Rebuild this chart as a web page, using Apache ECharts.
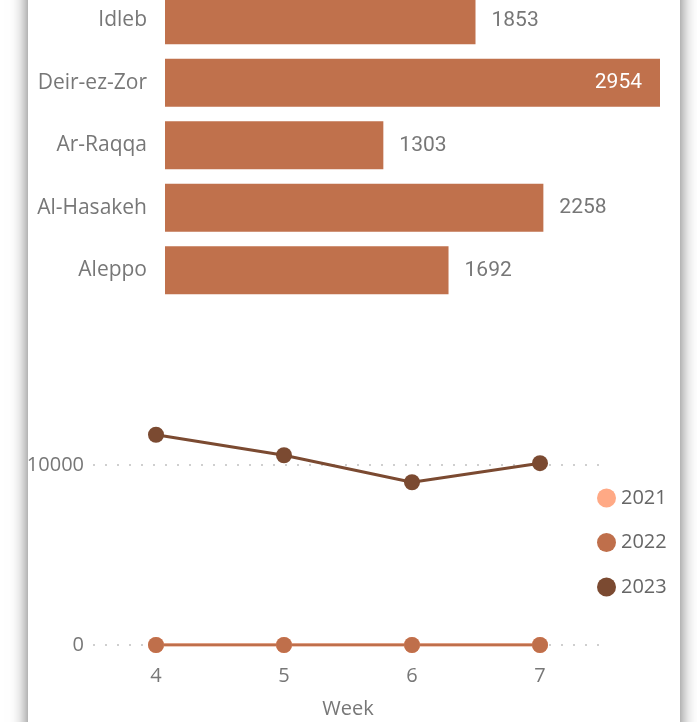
<!DOCTYPE html>
<html>
<head>
<meta charset="utf-8">
<script src="https://cdn.jsdelivr.net/npm/echarts@6/dist/echarts.min.js"></script>
<style>
html,body{margin:0;padding:0;width:697px;height:722px;overflow:hidden;background:#fff;}
#panel{position:absolute;left:28px;top:-30px;width:652px;height:782px;background:#fff;box-shadow:0 0 16px rgba(0,0,0,0.6);}
#barChart{position:absolute;left:0;top:-11px;width:697px;height:330px;}
#lineChart{position:absolute;left:0;top:330px;width:697px;height:392px;}
</style>
</head>
<body>
<div id="panel"></div>
<div id="barChart"></div>
<div id="lineChart"></div>
<script>
// Bar chart data
const regions = ['Idleb', 'Deir-ez-Zor', 'Ar-Raqqa', 'Al-Hasakeh', 'Aleppo'];
const regionValues = [1853, 2954, 1303, 2258, 1692];

// Line chart data
const weeks = ['4', '5', '6', '7'];
const years = ['2021', '2022', '2023'];
const values2021 = [0, 0, 0, 0];
const values2022 = [0, 0, 0, 0];
const values2023 = [11680, 10540, 9040, 10100];
const yTickInterval = 10000;

const barColor = '#C0714C';
const yearColors = ['#FFA985', '#BF6F4B', '#7B4A31'];
const textGrey = '#777777';
const fontMain = 'Open Sans';

const barMax = Math.max.apply(null, regionValues);

const barChart = echarts.init(document.getElementById('barChart'), null, {renderer: 'canvas'});
barChart.setOption({
  backgroundColor: 'transparent',
  animation: false,
  grid: {left: 165, right: 37, top: 0, height: 312.5, containLabel: false, outerBoundsMode: 'none'},
  xAxis: {type: 'value', min: 0, max: barMax, show: false},
  yAxis: {
    type: 'category', data: regions, inverse: true,
    axisLine: {show: false}, axisTick: {show: false},
    axisLabel: {color: textGrey, fontFamily: fontMain, fontSize: 21, margin: 18}
  },
  series: [{
    type: 'bar',
    data: regionValues.map(function (v) {
      const isMax = v === barMax;
      return {
        value: v,
        label: isMax ? {position: 'insideRight', color: '#fff', distance: 18} : {}
      };
    }),
    barWidth: 48,
    itemStyle: {color: barColor},
    label: {
      show: true, position: 'right', distance: 16,
      color: textGrey, fontFamily: 'Roboto', fontSize: 21, fontWeight: 'normal'
    }
  }]
});

const lineChart = echarts.init(document.getElementById('lineChart'), null, {renderer: 'canvas'});
lineChart.setOption({
  backgroundColor: 'transparent',
  animation: false,
  grid: {left: 92, right: 93, top: 99, height: 216, containLabel: false, outerBoundsMode: 'none'},
  legend: {
    data: years,
    orient: 'vertical',
    left: 592,
    top: 153,
    icon: 'circle',
    itemWidth: 19,
    itemHeight: 19,
    itemGap: 24.5,
    textStyle: {color: '#666', fontFamily: fontMain, fontSize: 20}
  },
  xAxis: {
    type: 'category', data: weeks, boundaryGap: true,
    axisLine: {show: false}, axisTick: {show: false},
    axisLabel: {color: textGrey, fontFamily: fontMain, fontSize: 20, margin: 21},
    name: 'Week', nameLocation: 'middle', nameGap: 54,
    nameTextStyle: {color: textGrey, fontFamily: fontMain, fontSize: 20}
  },
  yAxis: {
    type: 'value', min: 0, max: 12000, interval: yTickInterval,
    axisLine: {show: false}, axisTick: {show: false},
    axisLabel: {
      color: textGrey, fontFamily: fontMain, fontSize: 20, margin: 8,
      showMaxLabel: false,
      formatter: function (v) { return v % yTickInterval === 0 ? String(v) : ''; }
    },
    splitLine: {show: true, showMaxLine: false, lineStyle: {color: '#CFCFCF', width: 2, type: [2, 10], dashOffset: -13}}
  },
  series: years.map(function (y, i) {
    const data = [values2021, values2022, values2023][i];
    return {
      name: y, type: 'line', data: data,
      symbol: 'circle', symbolSize: 16,
      lineStyle: {width: 3, color: yearColors[i]},
      itemStyle: {color: yearColors[i]}
    };
  })
});
</script>
</body>
</html>
